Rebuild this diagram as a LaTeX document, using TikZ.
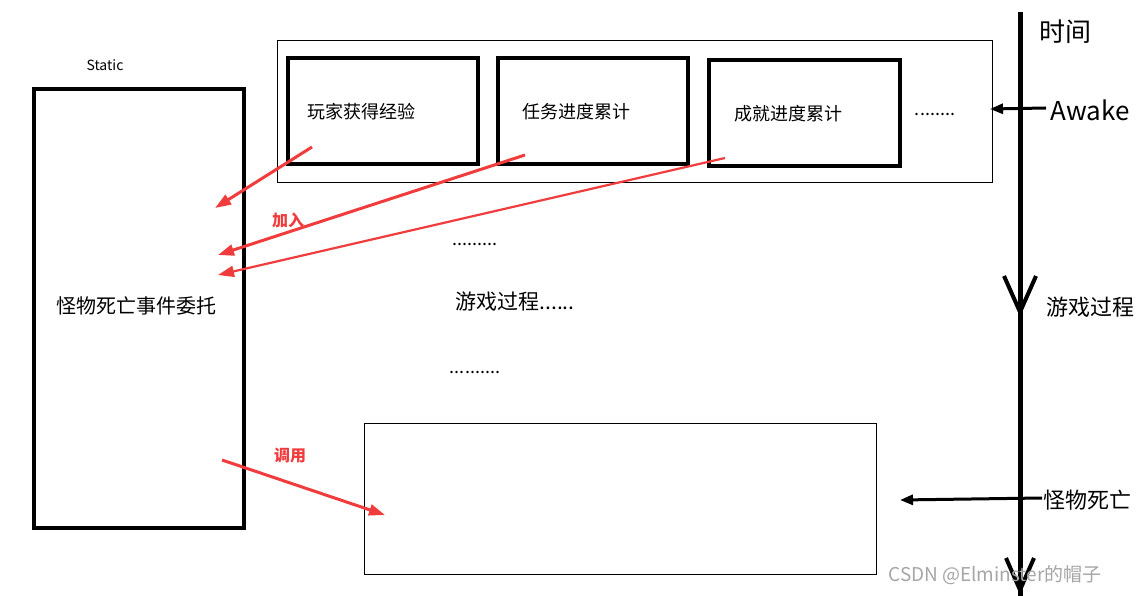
\documentclass[tikz,border=0pt]{standalone}
\usepackage{fontspec}
\setmainfont{Noto Sans CJK SC}
\usetikzlibrary{arrows.meta}
\definecolor{rd}{RGB}{240,60,60}
\begin{document}
\begin{tikzpicture}[x=1pt,y=-1pt,
  thk/.style={draw=black,line width=3.5pt},
  thin/.style={draw=black,line width=0.6pt},
  lbl/.style={font=\fontsize{18}{20}\selectfont,inner sep=0},
  redarr/.style={draw=rd,line width=3pt,-{Triangle[length=16pt,width=11pt]}},
  blkarr/.style={draw=black,line width=3pt,-{Triangle[length=13pt,width=10pt]}}]
\useasboundingbox[fill=white] (0,0) rectangle (1139,596);
\node[font=\fontsize{14}{16}\selectfont,inner sep=0] (static) at (105,65) {Static};
\draw[thk] (34,89) rectangle (244,528);
\node[lbl,font=\fontsize{20}{22}\selectfont] (deleg) at (136,306) {怪物死亡事件委托};
\draw[thin] (277,40) rectangle (992,182);
\draw[thk] (288,58) rectangle (478,164);
\draw[thk] (498,58) rectangle (688,164);
\draw[thk] (709,60) rectangle (900,166);
\node[lbl] (t1) at (361,112) {玩家获得经验};
\node[lbl] (t2) at (576,112) {任务进度累计};
\node[lbl] (t3) at (788,114) {成就进度累计};
\node[lbl] (dots1) at (935,114) {........};
\draw[thin] (364,423) rectangle (876,574);
% time axis
\draw[black,line width=5pt] (1020,12) -- (1020,596);
\draw[black,line width=4pt] (1004,276) -- (1020,312) -- (1036,276);
\draw[black,line width=4pt] (1006,558) -- (1020,590) -- (1034,558);
\node[lbl,font=\fontsize{26}{28}\selectfont] (time) at (1065,32) {时间};
\node[lbl,font=\fontsize{26}{28}\selectfont] (awake) at (1090,110) {Awake};
\node[lbl,font=\fontsize{22}{24}\selectfont] (game) at (1090,307) {游戏过程};
\node[lbl,font=\fontsize{22}{24}\selectfont] (death) at (1087,500) {怪物死亡};
\coordinate (aw0) at (1046,108);
\coordinate (aw1) at (990,109);
\draw[blkarr] (aw0) -- (aw1);
\coordinate (d0) at (1042,498);
\coordinate (d1) at (900,500);
\draw[blkarr] (d0) -- (d1);
% red arrows
\coordinate (r1a) at (312,147); \coordinate (r1b) at (215,208);
\coordinate (r2a) at (525,155); \coordinate (r2b) at (218,255);
\coordinate (r3a) at (725,158); \coordinate (r3b) at (218,275);
\coordinate (r4a) at (222,460); \coordinate (r4b) at (385,515);
\draw[redarr] (r1a) -- (r1b);
\draw[redarr] (r2a) -- (r2b);
\draw[redarr,line width=2.2pt] (r3a) -- (r3b);
\draw[redarr] (r4a) -- (r4b);
\node[text=rd,font=\bfseries\fontsize{16}{18}\selectfont,inner sep=0] (join) at (288,220) {加入};
\node[text=rd,font=\bfseries\fontsize{16}{18}\selectfont,inner sep=0] (call) at (290,456) {调用};
\node[lbl] (dots2) at (475,244) {.........};
\node[lbl,font=\fontsize{21}{23}\selectfont] (gp) at (515,302) {游戏过程......};
\node[lbl] (dots3) at (475,372) {..........};
\node[text=gray!70,font=\fontsize{19}{21}\selectfont,inner sep=0] (wm) at (995,575) {CSDN @Elminster的帽子};
\end{tikzpicture}
\end{document}
